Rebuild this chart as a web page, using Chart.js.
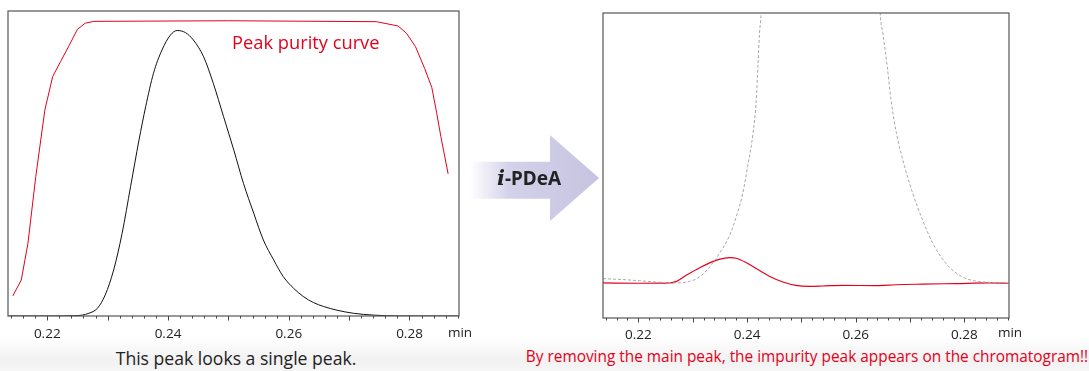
<!DOCTYPE html>
<html>
<head>
<meta charset="utf-8">
<script src="https://cdn.jsdelivr.net/npm/chart.js@4.4.0/dist/chart.umd.min.js"></script>
<style>
    html, body { margin: 0; padding: 0; }
    body {
        width: 1089px; height: 371px; position: relative; overflow: hidden;
        background: linear-gradient(to bottom, #fff 0px, #fff 338px, #f1f1f1 360px, #f6f6f6 371px);
        font-family: "Open Sans", "Noto Sans", sans-serif;
    }
    .box { position: absolute; top: 0; height: 345px; }
    #leftBox { left: 0; width: 480px; }
    #rightBox { left: 590px; width: 440px; }
    .caption { position: absolute; white-space: nowrap; transform: translateX(-50%); }
    #capLeft { left: 236px; top: 346px; font-size: 17.6px; color: #222; }
    #capRight { left: 807px; top: 346px; font-size: 15.4px; color: #e3001b; }
    #arrow {
        position: absolute; left: 470px; top: 135px; width: 129px; height: 86px;
        background: linear-gradient(to right, rgba(200,198,226,0) 0%, #d4d2ea 30%, #c5c3df 100%);
        clip-path: polygon(0 31%, 62% 31%, 62% 0, 100% 50%, 62% 100%, 62% 74%, 0 74%);
    }
    #arrowText {
        position: absolute; left: 497px; top: 165px; font-size: 19px; font-weight: bold; color: #222;
        font-family: "Noto Sans", sans-serif;
    }
    #arrowText i { font-family: "DejaVu Serif", serif; font-size: 21px; }
</style>
</head>
<body>
<div class="box" id="leftBox"><canvas id="leftChart"></canvas></div>
<div class="box" id="rightBox"><canvas id="rightChart"></canvas></div>
<div id="arrow"></div>
<div id="arrowText"><i>i</i>-PDeA</div>
<div class="caption" id="capLeft">This peak looks a single peak.</div>
<div class="caption" id="capRight">By removing the main peak, the impurity peak appears on the chromatogram!!</div>
<script>
// retention time axis (min)
var xMin = 0.2135, xMax = 0.2882;
var tickLabels = [0.22, 0.24, 0.26, 0.28];

// left: peak purity curve (red) and chromatogram (black)
var purityTime = [0.2143, 0.2157, 0.2168, 0.2181, 0.2196, 0.2209, 0.2222, 0.2236, 0.2250, 0.2263, 0.2277, 0.2500, 0.2745, 0.2781, 0.2795, 0.2810, 0.2825, 0.2837, 0.2845, 0.2852, 0.2864];
var purityValue = [6.6, 11.8, 23.8, 45.7, 67.5, 78.5, 83.4, 88.6, 94.0, 96.0, 96.6, 96.8, 96.5, 95.1, 92.7, 88.3, 81.2, 74.9, 66.6, 58.8, 46.6];

var peakTime = [0.2136, 0.2200, 0.2245, 0.2258, 0.2269, 0.2283, 0.2296, 0.2310, 0.2324, 0.2338, 0.2352, 0.2363, 0.2376, 0.2390, 0.2404, 0.2415, 0.2429, 0.2442, 0.2459, 0.2475, 0.2492, 0.2509, 0.2525, 0.2542, 0.2558, 0.2575, 0.2591, 0.2608, 0.2624, 0.2641, 0.2658, 0.2680, 0.2707, 0.2740, 0.2784, 0.2880];
var peakValue = [0, 0, 0.1, 0.3, 0.9, 2.5, 6.9, 15.1, 27.1, 42.4, 57.7, 68.6, 79.6, 87.2, 92.1, 93.6, 92.9, 90.5, 85.0, 76.3, 65.4, 54.4, 43.5, 33.7, 24.9, 18.4, 12.9, 9.1, 6.4, 4.4, 3.1, 1.9, 0.9, 0.3, 0, 0];

// right: i-PDeA result (red) and original chromatogram (grey dashed)
var impurityTime = [0.2135, 0.2202, 0.2258, 0.2270, 0.2288, 0.2313, 0.2343, 0.2368, 0.2380, 0.2399, 0.2417, 0.2441, 0.2466, 0.2490, 0.2515, 0.2539, 0.2576, 0.2638, 0.2674, 0.2723, 0.2785, 0.2846, 0.2881];
var impurityValue = [11.5, 11.4, 11.5, 12.0, 14.0, 16.5, 18.9, 19.8, 19.6, 18.1, 16.2, 13.7, 11.8, 10.7, 10.4, 10.5, 10.7, 10.6, 10.9, 11.1, 11.3, 11.5, 11.4];

var originalTime = [0.2135, 0.2172, 0.2233, 0.2270, 0.2294, 0.2313, 0.2331, 0.2349, 0.2368, 0.2380, 0.2392, 0.2401, 0.2411, 0.2417, 0.2420, 0.2423, 0.2426, 0.2432, 0.2640, 0.2645, 0.2650, 0.2658, 0.2665, 0.2675, 0.2690, 0.2705, 0.2723, 0.2742, 0.2766, 0.2791, 0.2821, 0.2881];
var originalValue = [12.9, 12.6, 11.8, 11.5, 12.0, 13.5, 16.7, 21.1, 27.1, 33.1, 40.8, 49.6, 60.5, 71.4, 82.4, 93.3, 100, 125, 125, 100, 93.3, 82.4, 71.4, 60.5, 49.6, 40.8, 32.1, 24.4, 17.9, 14.0, 12.1, 11.5];

function pairs(xs, ys) {
    return xs.map(function(x, i) { return { x: x, y: ys[i] }; });
}

// frame, tick marks and "min" unit
var framePlugin = {
    id: 'frame',
    afterDraw: function(chart) {
        var ctx = chart.ctx, a = chart.chartArea, xs = chart.scales.x;
        ctx.save();
        ctx.strokeStyle = '#555';
        ctx.lineWidth = 1.2;
        ctx.strokeRect(a.left, a.top, a.right - a.left, a.bottom - a.top);
        ctx.lineWidth = 1;
        ctx.strokeStyle = '#444';
        for (var k = 107; k <= 144; k++) {
            var v = k * 0.002;
            var px = Math.round(xs.getPixelForValue(v)) + 0.5;
            var len = (k % 5 === 0) ? 4.5 : 2.5;
            ctx.beginPath();
            ctx.moveTo(px, a.bottom);
            ctx.lineTo(px, a.bottom + len);
            ctx.stroke();
        }
        ctx.fillStyle = '#222';
        ctx.font = '13.5px "Open Sans"';
        ctx.textAlign = 'center';
        ctx.textBaseline = 'middle';
        ctx.fillText('min', a.right + 1, 333);
        ctx.restore();
    }
};

function makeChart(id, datasets, pad, axisH, labelPad, extra) {
    var plugins = [framePlugin];
    if (extra) plugins.push(extra);
    return new Chart(document.getElementById(id), {
        type: 'line',
        data: { datasets: datasets },
        plugins: plugins,
        options: {
            responsive: true,
            maintainAspectRatio: false,
            animation: false,
            layout: { padding: pad },
            plugins: { legend: { display: false }, tooltip: { enabled: false } },
            elements: { point: { radius: 0 } },
            scales: {
                x: {
                    type: 'linear',
                    min: xMin,
                    max: xMax,
                    afterBuildTicks: function(s) { s.ticks = tickLabels.map(function(v) { return { value: v }; }); },
                    afterFit: function(s) { s.height = axisH; },
                    grid: { display: false, drawTicks: false },
                    border: { display: false },
                    ticks: {
                        padding: labelPad,
                        color: '#222',
                        font: { family: 'Open Sans', size: 13.5 },
                        maxRotation: 0,
                        autoSkip: false,
                        callback: function(v) { return v.toFixed(2); }
                    }
                },
                y: { display: false, min: 0, max: 100 }
            }
        }
    });
}

var purityLabel = {
    id: 'purityLabel',
    afterDraw: function(chart) {
        var ctx = chart.ctx, xs = chart.scales.x, ys = chart.scales.y;
        ctx.save();
        ctx.fillStyle = '#e3001b';
        ctx.font = '18.3px "Open Sans"';
        ctx.textAlign = 'left';
        ctx.textBaseline = 'middle';
        ctx.fillText('Peak purity curve', xs.getPixelForValue(0.2506), ys.getPixelForValue(89.4));
        ctx.restore();
    }
};

makeChart('leftChart', [
    { data: pairs(peakTime, peakValue), borderColor: '#111', borderWidth: 1, cubicInterpolationMode: 'monotone' },
    { data: pairs(purityTime, purityValue), borderColor: '#e3001b', borderWidth: 1, tension: 0 }
], { left: 8, right: 21, top: 11, bottom: 0 }, 29, 10, purityLabel);

makeChart('rightChart', [
    { data: pairs(originalTime, originalValue), borderColor: '#a8a8a8', borderWidth: 1, borderDash: [3, 2], cubicInterpolationMode: 'monotone' },
    { data: pairs(impurityTime, impurityValue), borderColor: '#e3001b', borderWidth: 1.2, cubicInterpolationMode: 'monotone' }
], { left: 13, right: 21, top: 13, bottom: 0 }, 27, 9);
</script>
</body>
</html>
